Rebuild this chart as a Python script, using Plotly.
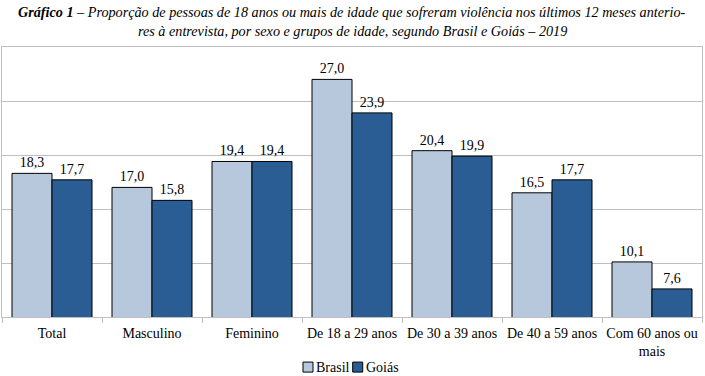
import plotly.graph_objects as go

categories = ["Total", "Masculino", "Feminino", "De 18 a 29 anos", "De 30 a 39 anos",
              "De 40 a 59 anos", "Com 60 anos ou<br>mais"]
brasil = [18.3, 17.0, 19.4, 27.0, 20.4, 16.5, 10.1]
goias = [17.7, 15.8, 19.4, 23.9, 19.9, 17.7, 7.6]
series_names = ["Brasil", "Goiás"]
series_colors = ["#b7c8dd", "#2a5d94"]
title_lines = [
    "<b><i>Gráfico 1</i></b><i> – Proporção de pessoas de 18 anos ou mais de idade que sofreram violência nos últimos 12 meses anterio-</i>",
    "<i>res à entrevista, por sexo e grupos de idade, segundo Brasil e Goiás – 2019</i>",
]

FONT = "Liberation Serif"

fig = go.Figure()
for name, vals, col in zip(series_names, [brasil, goias], series_colors):
    fig.add_trace(go.Bar(
        x=categories, y=vals, name=name,
        marker=dict(color=col, line=dict(color="#000000", width=1)),
        texttemplate="%{y:.1f}", textposition="outside",
        textfont=dict(family=FONT, size=14, color="#000000"),
        cliponaxis=False, showlegend=False,
    ))

# legend keys drawn as paper-space decorations
shapes = []
annotations = []
legend_x = [0.430, 0.501]
for name, col, lx in zip(series_names, series_colors, legend_x):
    shapes.append(dict(type="rect", xref="paper", yref="paper",
                       x0=lx, x1=lx + 0.0143, y0=-0.204, y1=-0.167,
                       fillcolor=col, line=dict(color="#000000", width=1)))
    annotations.append(dict(xref="paper", yref="paper", x=lx + 0.0160, y=-0.186,
                            xanchor="left", yanchor="middle", showarrow=False,
                            text=name, font=dict(family=FONT, size=14, color="#000000")))

for line, ys in zip(title_lines, [35, 16]):
    annotations.append(dict(
        xref="paper", yref="paper", x=0.5, y=1.0, yshift=ys, xanchor="center", yanchor="middle",
        showarrow=False, align="center", text=line,
        font=dict(family=FONT, size=14.2, color="#000000"),
    ))

fig.update_layout(
    width=705, height=376,
    margin=dict(l=2, r=3, t=47, b=59, autoexpand=False),
    paper_bgcolor="#ffffff", plot_bgcolor="#ffffff",
    barmode="group", bargap=0.2, bargroupgap=0,
    separators=",.",
    font=dict(family=FONT, size=14, color="#000000"),
    showlegend=False,
    shapes=shapes,
    annotations=annotations,
)
fig.update_xaxes(
    showline=True, linecolor="#bfbfbf", linewidth=1, mirror=True,
    ticks="outside", tickson="boundaries", ticklen=5, tickcolor="#bfbfbf",
    tickfont=dict(family=FONT, size=14, color="#000000"),
    tickangle=0, ticklabelstandoff=3,
    automargin=False,
)
fig.update_yaxes(
    range=[5, 30], dtick=5, showticklabels=False,
    showgrid=True, gridcolor="#bfbfbf", gridwidth=1,
    showline=True, linecolor="#bfbfbf", linewidth=1, mirror=True,
    zeroline=False, automargin=False,
)

fig.write_html("out.html", config={"displayModeBar": False},
               post_script="document.body.style.margin='0';")
